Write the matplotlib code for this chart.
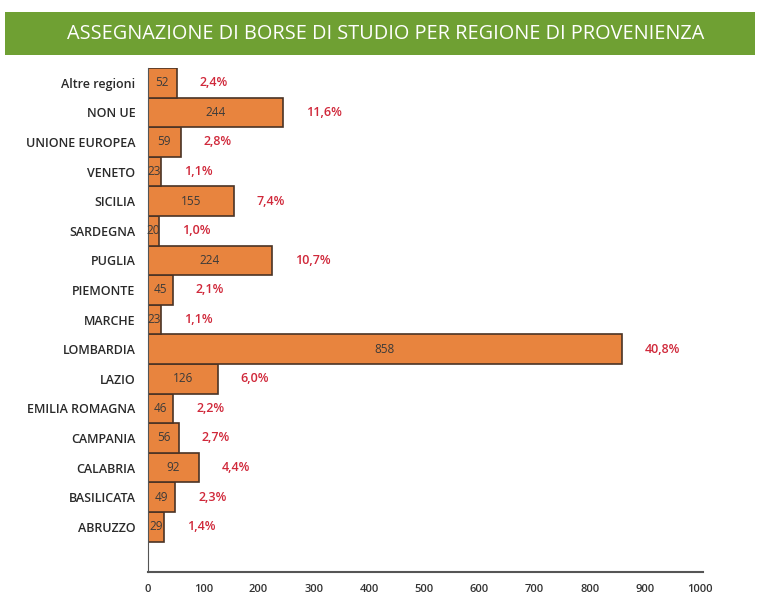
import matplotlib
matplotlib.use("Agg")
import matplotlib.pyplot as plt
from matplotlib.patches import Rectangle

plt.rcParams['font.family'] = ['Open Sans', 'DejaVu Sans']

# data, bottom to top as drawn
regions = ["ABRUZZO", "BASILICATA", "CALABRIA", "CAMPANIA", "EMILIA ROMAGNA",
           "LAZIO", "LOMBARDIA", "MARCHE", "PIEMONTE", "PUGLIA", "SARDEGNA",
           "SICILIA", "VENETO", "UNIONE EUROPEA", "NON UE", "Altre regioni"]
counts = [29, 49, 92, 56, 46, 126, 858, 23, 45, 224, 20, 155, 23, 59, 244, 52]
percents = ["1,4%", "2,3%", "4,4%", "2,7%", "2,2%", "6,0%", "40,8%", "1,1%",
            "2,1%", "10,7%", "1,0%", "7,4%", "1,1%", "2,8%", "11,6%", "2,4%"]
x_ticks = [0, 100, 200, 300, 400, 500, 600, 700, 800, 900, 1000]

title = "ASSEGNAZIONE DI BORSE DI STUDIO PER REGIONE DI PROVENIENZA"

fig = plt.figure(figsize=(7.61, 5.95), dpi=100)

# green title banner
banner = Rectangle((5 / 761, 1 - 55 / 595), 750 / 761, 43 / 595,
                   transform=fig.transFigure, facecolor="#6fa033",
                   edgecolor="none")
fig.patches.append(banner)
fig.text(386 / 761, 1 - 34 / 595, title, color="white", fontsize=14.3,
         ha="center", va="center")

ax = fig.add_axes([148 / 761, 23 / 595, 555 / 761, 504 / 595])
y = list(range(len(regions)))
ax.barh(y, counts, height=1.0, color="#e8843e", edgecolor="#4a3325",
        linewidth=1.2)

for yi, c, p in zip(y, counts, percents):
    ax.text(c / 2, yi, str(c), ha="center", va="center", fontsize=8.5,
            color="#3a3a3a")
    ax.annotate(p, (c, yi), xytext=(23, 0), textcoords="offset pixels",
                ha="left", va="center", fontsize=9, color="#d0283a",
                fontweight="semibold")

ax.set_xlim(0, 1005)
ax.set_ylim(-1.53, 15.5)
ax.set_yticks(y)
ax.set_yticklabels(regions, fontsize=9, color="#2a2a2a", fontweight="semibold")
ax.set_xticks(x_ticks)
ax.set_xticklabels([str(t) for t in x_ticks], fontsize=8, color="#333333",
                   fontweight="semibold")
ax.tick_params(axis="both", length=0)
ax.tick_params(axis="y", pad=9)
ax.tick_params(axis="x", pad=9)
for s in ["top", "right"]:
    ax.spines[s].set_visible(False)
ax.spines["left"].set_color("#555555")
ax.spines["bottom"].set_color("#555555")
ax.spines["bottom"].set_linewidth(1.5)

fig.savefig("out.png", dpi=100)
